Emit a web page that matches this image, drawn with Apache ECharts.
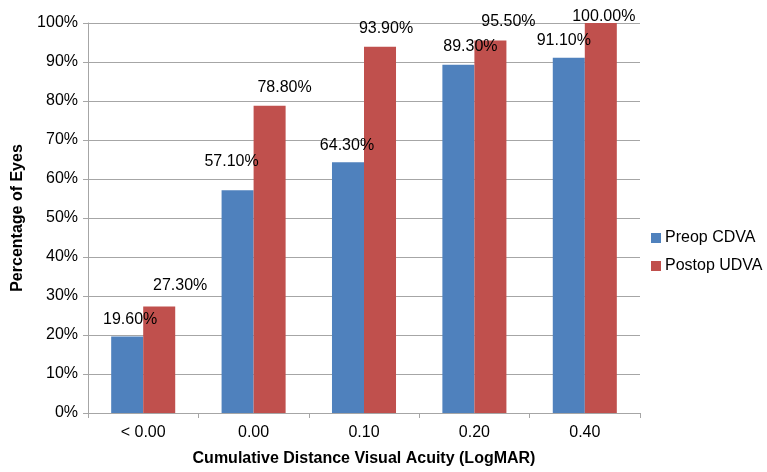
<!DOCTYPE html>
<html>
<head>
<meta charset="utf-8">
<style>
  html, body { margin: 0; padding: 0; background: #fff; }
  #chart { width: 767px; height: 472px; }
</style>
<script src="https://cdn.jsdelivr.net/npm/echarts@6/dist/echarts.min.js"></script>
</head>
<body>
<div id="chart"></div>
<script>
// Cumulative distance visual acuity, preop CDVA vs postop UDVA
const categories = ['< 0.00', '0.00', '0.10', '0.20', '0.40'];
const preopCDVA = [19.6, 57.1, 64.3, 89.3, 91.1];
const postopUDVA = [27.3, 78.8, 93.9, 95.5, 100.0];
const yTicks = [0, 10, 20, 30, 40, 50, 60, 70, 80, 90, 100];

// label nudges [dx, dy] so the value labels sit clear of each other
const preopLabelShift = [[3, -9], [-6, -21], [-1, -9], [12, -10], [-5, -9]];
const postopLabelShift = [[21, -13], [15, -10], [6, -10], [18, -11], [3, 2]];

const FONT = 'Liberation Sans, Arial, Helvetica, sans-serif';
const GRID_GREY = '#a6a6a6';

function withLabels(values, shifts) {
  return values.map((v, i) => ({
    value: v,
    label: { offset: shifts[i] }
  }));
}

const chart = echarts.init(document.getElementById('chart'), null, { renderer: 'canvas' });

chart.setOption({
  animation: false,
  textStyle: { fontFamily: FONT },
  grid: { left: 88, top: 23, width: 552, height: 393, containLabel: false },
  legend: {
    orient: 'vertical',
    left: 646,
    top: 225,
    itemWidth: 10,
    itemHeight: 10,
    itemGap: 12,
    icon: 'rect',
    textStyle: { fontFamily: FONT, fontSize: 16, color: '#000', padding: [0, 0, 0, -1] },
    data: ['Preop CDVA', 'Postop UDVA']
  },
  xAxis: {
    type: 'category',
    data: categories,
    name: 'Cumulative Distance Visual Acuity (LogMAR)',
    nameLocation: 'middle',
    nameGap: 38,
    nameTextStyle: { fontFamily: FONT, fontSize: 16, fontWeight: 'bold', color: '#000' },
    axisLine: { lineStyle: { color: GRID_GREY, width: 1 } },
    axisTick: { show: true, length: 5, alignWithLabel: false, lineStyle: { color: GRID_GREY } },
    axisLabel: { fontFamily: FONT, fontSize: 16, color: '#000', margin: 12 }
  },
  yAxis: {
    type: 'value',
    min: yTicks[0],
    max: yTicks[yTicks.length - 1],
    interval: 10,
    name: 'Percentage of Eyes',
    nameLocation: 'middle',
    nameGap: 62,
    nameTextStyle: { fontFamily: FONT, fontSize: 16, fontWeight: 'bold', color: '#000' },
    axisLine: { show: true, lineStyle: { color: GRID_GREY, width: 1 } },
    axisTick: { show: true, length: 5, lineStyle: { color: GRID_GREY } },
    splitLine: { show: true, lineStyle: { color: GRID_GREY, width: 1 } },
    axisLabel: { fontFamily: FONT, fontSize: 16, color: '#000', margin: 10, formatter: '{value}%' }
  },
  series: [
    {
      name: 'Preop CDVA',
      type: 'bar',
      data: withLabels(preopCDVA, preopLabelShift),
      barGap: '0%',
      barCategoryGap: '42%',
      itemStyle: { color: '#4f81bd' },
      label: {
        show: true,
        position: 'top',
        distance: 0,
        fontFamily: FONT,
        fontSize: 16,
        color: '#000',
        formatter: p => p.value.toFixed(2) + '%'
      }
    },
    {
      name: 'Postop UDVA',
      type: 'bar',
      data: withLabels(postopUDVA, postopLabelShift),
      barGap: '0%',
      barCategoryGap: '42%',
      itemStyle: { color: '#c0504d' },
      label: {
        show: true,
        position: 'top',
        distance: 0,
        fontFamily: FONT,
        fontSize: 16,
        color: '#000',
        formatter: p => p.value.toFixed(2) + '%'
      }
    }
  ]
});
</script>
</body>
</html>
